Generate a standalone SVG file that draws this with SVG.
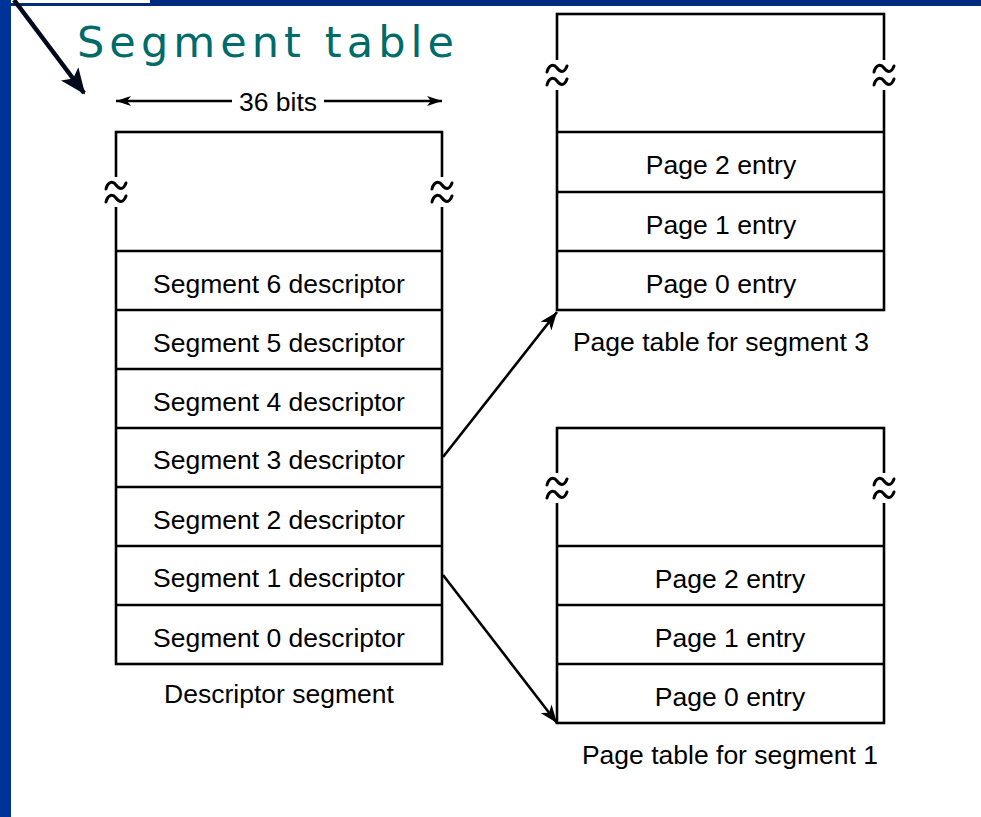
<svg xmlns="http://www.w3.org/2000/svg" width="981" height="817" viewBox="0 0 981 817">
<style>
.box{fill:#fff;stroke:#000;stroke-width:2.6}
.div{stroke:#000;stroke-width:2.6}
.t{font-family:"Liberation Sans",Arial,sans-serif;font-size:26.5px;fill:#000;text-anchor:middle}
.conn{stroke:#000;stroke-width:2.6;fill:none}
.tl{fill:none;stroke:#000;stroke-width:3;stroke-linecap:round}
</style>
<defs>
<marker id="ah" markerUnits="userSpaceOnUse" markerWidth="20" markerHeight="14" refX="18" refY="7" orient="auto">
<path d="M0,0 L18,7 L0,14 L5,7 Z" fill="#000"/>
</marker>
<marker id="ahs" markerUnits="userSpaceOnUse" markerWidth="16" markerHeight="10" refX="15" refY="5" orient="auto-start-reverse">
<path d="M0,0 L15,5 L0,10 L4,5 Z" fill="#000"/>
</marker>
<marker id="ahb" markerUnits="userSpaceOnUse" markerWidth="28" markerHeight="22" refX="24" refY="11" orient="auto">
<path d="M0,0 L26,11 L0,22 L6,11 Z" fill="#00081c"/>
</marker>
<g id="sq">
<rect x="-3" y="-15" width="6" height="30" fill="#fff"/>
<path class="tl" d="M-10,-3 C-8,-11 -3,-11 0,-7 S7,-1 10,-9"/>
<path class="tl" d="M-10,10 C-8,2 -3,2 0,6 S7,12 10,4"/>
</g>
</defs>
<rect x="0" y="0" width="981" height="817" fill="#fff"/>
<rect x="0" y="0" width="981" height="6" fill="#002a7d"/>
<rect x="11" y="0" width="139" height="3" fill="#fff"/>
<rect x="0" y="0" width="11" height="817" fill="#003399"/>
<line x1="14" y1="0" x2="84" y2="93" stroke="#00081c" stroke-width="4.5" marker-end="url(#ahb)"/>
<text x="77" y="57" font-family="DejaVu Sans,Verdana,sans-serif" font-size="43" fill="#006b6b" textLength="377" lengthAdjust="spacing">Segment table</text>

<g id="width-label">
<line class="conn" x1="116" y1="101" x2="232" y2="101" marker-start="url(#ahs)"/>
<line class="conn" x1="324" y1="101" x2="442" y2="101" marker-end="url(#ahs)"/>
<text class="t" x="278" y="111" font-size="27">36 bits</text>
</g>

<g id="descriptor-segment">
<rect class="box" x="116" y="132" width="326" height="532"/>
<line class="div" x1="116" y1="251" x2="442" y2="251"/>
<line class="div" x1="116" y1="310" x2="442" y2="310"/>
<line class="div" x1="116" y1="369" x2="442" y2="369"/>
<line class="div" x1="116" y1="428" x2="442" y2="428"/>
<line class="div" x1="116" y1="487" x2="442" y2="487"/>
<line class="div" x1="116" y1="546" x2="442" y2="546"/>
<line class="div" x1="116" y1="605" x2="442" y2="605"/>
<use href="#sq" x="116" y="192"/>
<use href="#sq" x="442" y="192"/>
<text class="t" x="279" y="293">Segment 6 descriptor</text>
<text class="t" x="279" y="352">Segment 5 descriptor</text>
<text class="t" x="279" y="411">Segment 4 descriptor</text>
<text class="t" x="279" y="469">Segment 3 descriptor</text>
<text class="t" x="279" y="529">Segment 2 descriptor</text>
<text class="t" x="279" y="587">Segment 1 descriptor</text>
<text class="t" x="279" y="647">Segment 0 descriptor</text>
<text class="t" x="279" y="703">Descriptor segment</text>
</g>

<g id="page-table-3">
<rect class="box" x="557" y="14" width="327" height="296"/>
<line class="div" x1="557" y1="132" x2="884" y2="132"/>
<line class="div" x1="557" y1="192" x2="884" y2="192"/>
<line class="div" x1="557" y1="251" x2="884" y2="251"/>
<use href="#sq" x="557" y="75"/>
<use href="#sq" x="884" y="75"/>
<text class="t" x="721" y="174">Page 2 entry</text>
<text class="t" x="721" y="234">Page 1 entry</text>
<text class="t" x="721" y="293">Page 0 entry</text>
<text class="t" x="721" y="351">Page table for segment 3</text>
</g>

<g id="page-table-1">
<rect class="box" x="557" y="428" width="327" height="295"/>
<line class="div" x1="557" y1="546" x2="884" y2="546"/>
<line class="div" x1="557" y1="605" x2="884" y2="605"/>
<line class="div" x1="557" y1="664" x2="884" y2="664"/>
<use href="#sq" x="557" y="488"/>
<use href="#sq" x="884" y="488"/>
<text class="t" x="730" y="588">Page 2 entry</text>
<text class="t" x="730" y="647">Page 1 entry</text>
<text class="t" x="730" y="706">Page 0 entry</text>
<text class="t" x="730" y="764">Page table for segment 1</text>
</g>

<g id="connectors">
<line class="conn" x1="443" y1="457" x2="557" y2="312" marker-end="url(#ah)"/>
<line class="conn" x1="443" y1="575" x2="557" y2="723" marker-end="url(#ah)"/>
</g>
</svg>
